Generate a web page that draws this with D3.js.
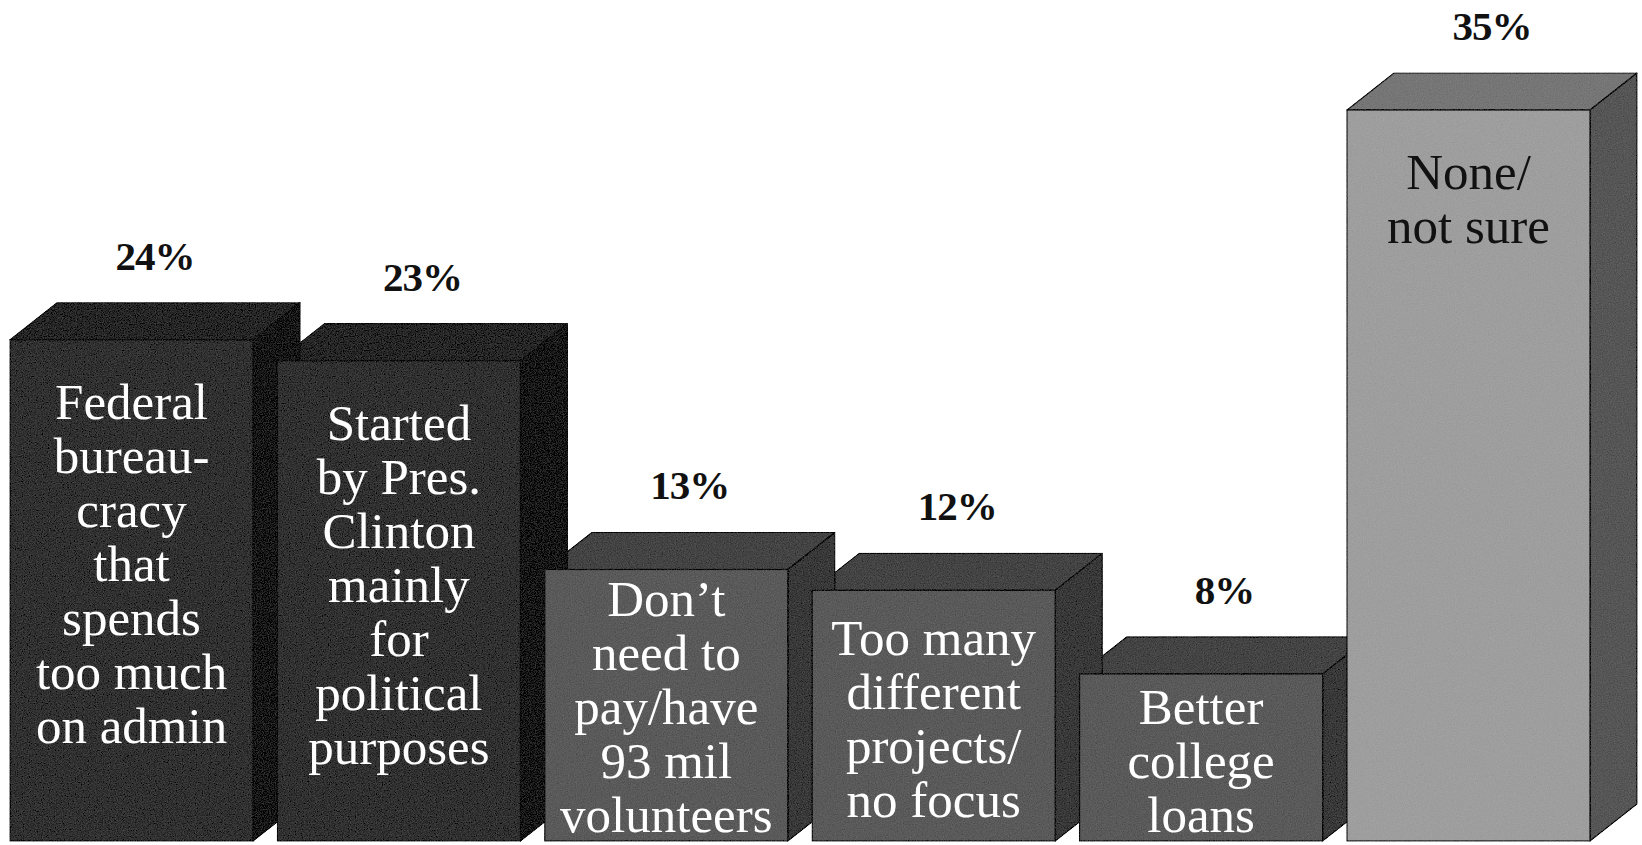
<!DOCTYPE html>
<html>
<head>
<meta charset="utf-8">
<script src="https://cdn.jsdelivr.net/npm/d3@7"></script>
<style>
  html, body { margin: 0; padding: 0; background: #fff; }
  svg { display: block; }
</style>
</head>
<body>
<svg id="chart" width="1642" height="845"></svg>
<script>
// Survey responses: reasons given against the national service program (percent)
const categories = [
  "Federal bureaucracy",
  "Started by Pres. Clinton",
  "Don't need to pay",
  "Too many projects",
  "Better college loans",
  "None/not sure"
];
const values = [24, 23, 13, 12, 8, 35];
const valueLabels = ["24%", "23%", "13%", "12%", "8%", "35%"];
const labelLines = [
  ["Federal", "bureau-", "cracy", "that", "spends", "too much", "on admin"],
  ["Started", "by Pres.", "Clinton", "mainly", "for", "political", "purposes"],
  ["Don\u2019t", "need to", "pay/have", "93 mil", "volunteers"],
  ["Too many", "different", "projects/", "no focus"],
  ["Better", "college", "loans"],
  ["None/", "not sure"]
];
const shade = ["dark", "dark", "mid", "mid", "mid", "light"];

const palette = {
  dark:  { front: "#313131", top: "#272727", side: "#181818", text: "#ffffff" },
  mid:   { front: "#5a5a5a", top: "#444444", side: "#393939", text: "#ffffff" },
  light: { front: "#9e9e9e", top: "#767676", side: "#565656", text: "#111111" }
};

const W = 1642, H = 845;
const depthX = 47, depthY = 37;
const lineH = 54;

const svg = d3.select("#chart");

const x = d3.scaleBand()
  .domain(categories)
  .range([10, 1590])
  .paddingInner(0.091)
  .paddingOuter(0);

const y = d3.scaleLinear()
  .domain([0, 35])
  .range([841, 110]);

// film-grain texture for the box faces
const defs = svg.append("defs");
const grain = defs.append("filter")
  .attr("id", "grain")
  .attr("filterUnits", "userSpaceOnUse")
  .attr("x", 0).attr("y", 0).attr("width", W).attr("height", H);
grain.append("feTurbulence")
  .attr("type", "fractalNoise").attr("baseFrequency", 0.85)
  .attr("numOctaves", 2).attr("seed", 7).attr("result", "noise");
grain.append("feColorMatrix")
  .attr("in", "noise").attr("type", "matrix")
  .attr("values", "0.33 0.33 0.33 0 0  0.33 0.33 0.33 0 0  0.33 0.33 0.33 0 0  0 0 0 0 1")
  .attr("result", "gray");
grain.append("feComposite")
  .attr("in", "SourceGraphic").attr("in2", "gray")
  .attr("operator", "arithmetic")
  .attr("k1", 0).attr("k2", 1).attr("k3", 0.18).attr("k4", -0.09)
  .attr("result", "mixed");
grain.append("feComposite")
  .attr("in", "mixed").attr("in2", "SourceGraphic").attr("operator", "in");

const data = categories.map((c, i) => ({
  cat: c, v: values[i], label: valueLabels[i], lines: labelLines[i], col: palette[shade[i]]
}));

const bw = x.bandwidth();
const base = y(0);
const pts = a => a.map(p => p.join(",")).join(" ");

const boxes = svg.append("g").attr("filter", "url(#grain)");

// top faces first, then side faces, then front faces so neighbours overlap correctly
boxes.append("g").selectAll("polygon").data(data).join("polygon")
  .attr("points", d => {
    const x0 = x(d.cat), x1 = x0 + bw, t = y(d.v);
    return pts([[x0, t], [x0 + depthX, t - depthY], [x1 + depthX, t - depthY], [x1, t]]);
  })
  .attr("fill", d => d.col.top)
  .attr("stroke", "#0c0c0c").attr("stroke-width", 1.2).attr("stroke-linejoin", "round");

boxes.append("g").selectAll("polygon").data(data).join("polygon")
  .attr("points", d => {
    const x1 = x(d.cat) + bw, t = y(d.v);
    return pts([[x1, t], [x1 + depthX, t - depthY], [x1 + depthX, base - depthY], [x1, base]]);
  })
  .attr("fill", d => d.col.side)
  .attr("stroke", "#0c0c0c").attr("stroke-width", 1.2).attr("stroke-linejoin", "round");

boxes.append("g").selectAll("rect").data(data).join("rect")
  .attr("x", d => x(d.cat))
  .attr("y", d => y(d.v))
  .attr("width", bw)
  .attr("height", d => base - y(d.v))
  .attr("fill", d => d.col.front)
  .attr("stroke", "#0c0c0c").attr("stroke-width", 1.2);

// percentage labels above each box
svg.append("g").selectAll("text").data(data).join("text")
  .attr("x", d => x(d.cat) + bw / 2 + depthX / 2)
  .attr("y", d => y(d.v) - depthY - 33)
  .attr("text-anchor", "middle")
  .attr("font-family", "'Liberation Serif', 'Times New Roman', serif")
  .attr("font-weight", "bold")
  .attr("font-size", 41)
  .attr("letter-spacing", -1)
  .attr("fill", "#111")
  .text(d => d.label);

// category text on the front faces
const capH = 33;
const cat = svg.append("g").selectAll("text").data(data).join("text")
  .attr("text-anchor", "middle")
  .attr("font-family", "'Liberation Serif', 'Times New Roman', serif")
  .attr("font-size", 51)
  .attr("fill", d => d.col.text)
  .attr("transform", d => {
    const top = y(d.v), h = base - top, n = d.lines.length;
    const block = capH + (n - 1) * lineH;
    const centred = top + (h - block) / 2 + capH + 4;
    const first = Math.min(top + 79, centred, base - 9 - (n - 1) * lineH);
    return `translate(${x(d.cat) + bw / 2},${first})`;
  });
cat.selectAll("tspan").data(d => d.lines).join("tspan")
  .attr("x", 0)
  .attr("dy", (l, i) => i === 0 ? 0 : lineH)
  .text(l => l);
</script>
</body>
</html>
